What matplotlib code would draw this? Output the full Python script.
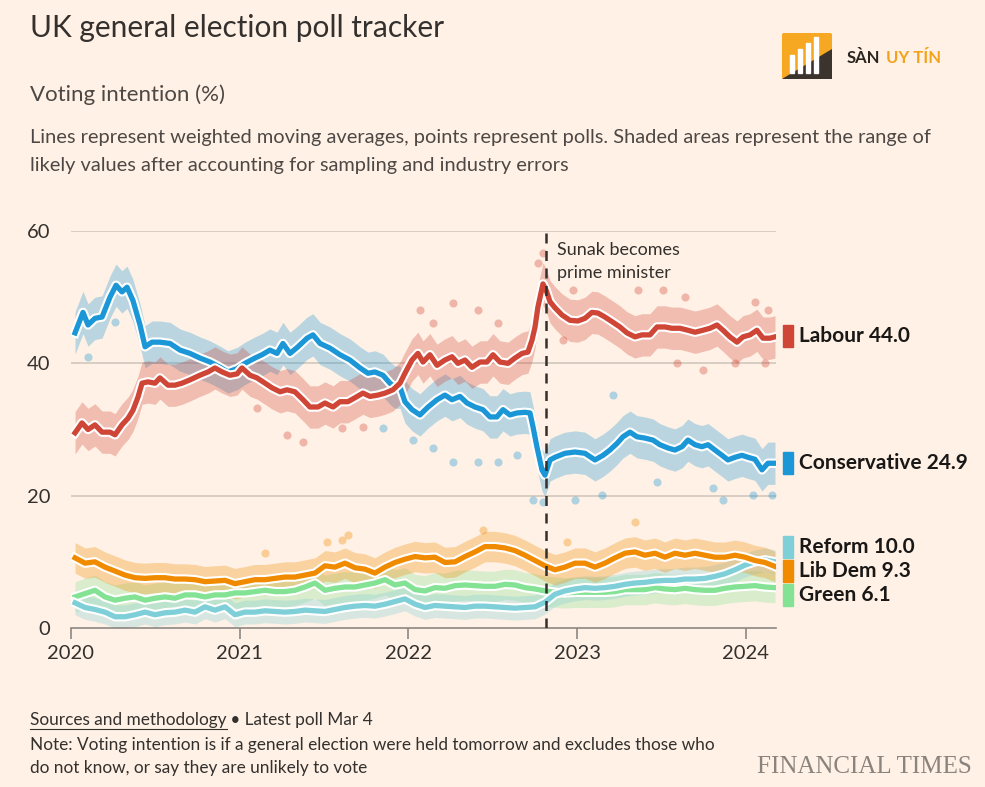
import matplotlib
matplotlib.use("Agg")
import matplotlib.pyplot as plt
import matplotlib.patheffects as pe
from matplotlib.patches import Rectangle, FancyBboxPatch, Polygon
import matplotlib.transforms as mtransforms
import numpy as np

# ---------------- data (decimal years, % voting intention) ----------------
lab_x = [2020.024, 2020.065, 2020.101, 2020.142, 2020.184, 2020.231, 2020.261, 2020.302, 2020.338, 2020.367,
         2020.397, 2020.421, 2020.456, 2020.498, 2020.527, 2020.575, 2020.616, 2020.658, 2020.705, 2020.764,
         2020.812, 2020.853, 2020.895, 2020.942, 2020.984, 2021.013, 2021.061, 2021.102, 2021.150, 2021.191,
         2021.239, 2021.280, 2021.327, 2021.375, 2021.416, 2021.464, 2021.505, 2021.553, 2021.594, 2021.641,
         2021.683, 2021.730, 2021.772, 2021.819, 2021.861, 2021.908, 2021.950, 2021.979, 2022.021, 2022.056,
         2022.086, 2022.127, 2022.169, 2022.216, 2022.258, 2022.293, 2022.335, 2022.376, 2022.424, 2022.465,
         2022.501, 2022.542, 2022.590, 2022.631, 2022.673, 2022.708, 2022.732, 2022.750, 2022.767, 2022.797,
         2022.815, 2022.839, 2022.868, 2022.910, 2022.957, 2023.004, 2023.046, 2023.087, 2023.123, 2023.164,
         2023.212, 2023.253, 2023.295, 2023.342, 2023.384, 2023.431, 2023.473, 2023.520, 2023.561, 2023.609,
         2023.656, 2023.698, 2023.745, 2023.787, 2023.828, 2023.864, 2023.905, 2023.947, 2023.982, 2024.024,
         2024.065, 2024.101, 2024.142, 2024.172]
lab_y = [29.5, 31.0, 30.0, 30.7, 29.6, 29.6, 29.2, 30.7, 31.7, 32.9,
         34.9, 37.0, 37.2, 37.0, 37.8, 36.7, 36.7, 37.0, 37.5, 38.2,
         38.7, 39.3, 38.7, 38.2, 38.4, 39.3, 38.2, 37.8, 37.0, 36.3,
         35.7, 36.0, 35.7, 34.5, 33.4, 33.4, 34.0, 33.4, 34.2, 34.2,
         34.8, 35.5, 35.0, 35.2, 35.5, 36.0, 37.0, 38.5, 40.5, 41.5,
         40.2, 41.3, 39.7, 40.5, 41.0, 40.0, 40.5, 39.4, 40.2, 40.2,
         41.3, 40.2, 40.0, 40.8, 41.5, 41.7, 43.5, 45.5, 48.5, 52.0,
         51.1, 49.3, 48.4, 47.3, 46.5, 46.4, 46.8, 47.7, 47.6, 47.0,
         46.2, 45.5, 44.6, 44.0, 44.3, 44.3, 45.5, 45.5, 45.3, 45.3,
         45.0, 44.7, 45.0, 45.3, 45.8, 45.0, 44.0, 43.2, 44.0, 44.3,
         45.0, 43.8, 43.8, 44.0]

con_x = [2020.024, 2020.071, 2020.101, 2020.142, 2020.184, 2020.231, 2020.267, 2020.302, 2020.332, 2020.367,
         2020.409, 2020.439, 2020.480, 2020.527, 2020.587, 2020.646, 2020.705, 2020.764, 2020.824, 2020.883,
         2020.930, 2020.984, 2021.031, 2021.090, 2021.132, 2021.179, 2021.221, 2021.256, 2021.298, 2021.345,
         2021.399, 2021.434, 2021.476, 2021.535, 2021.594, 2021.653, 2021.713, 2021.760, 2021.801, 2021.849,
         2021.890, 2021.920, 2021.950, 2021.979, 2022.021, 2022.068, 2022.116, 2022.169, 2022.216, 2022.258,
         2022.305, 2022.347, 2022.394, 2022.441, 2022.483, 2022.524, 2022.560, 2022.601, 2022.643, 2022.690,
         2022.720, 2022.738, 2022.761, 2022.791, 2022.809, 2022.839, 2022.868, 2022.927, 2022.987, 2023.046,
         2023.105, 2023.153, 2023.194, 2023.236, 2023.271, 2023.313, 2023.354, 2023.401, 2023.449, 2023.490,
         2023.538, 2023.579, 2023.621, 2023.656, 2023.698, 2023.739, 2023.775, 2023.816, 2023.858, 2023.893,
         2023.935, 2023.976, 2024.012, 2024.053, 2024.095, 2024.130, 2024.172]
con_y = [44.6, 47.7, 45.8, 46.8, 47.0, 50.0, 51.8, 50.8, 51.5, 49.5,
         45.8, 42.5, 43.2, 43.2, 43.0, 42.0, 41.5, 40.8, 40.2, 39.4,
         38.7, 39.2, 40.0, 40.8, 41.3, 42.0, 41.5, 43.0, 41.5, 42.5,
         43.8, 44.3, 43.0, 42.3, 41.3, 40.5, 39.3, 38.5, 38.7, 38.2,
         37.0, 36.4, 36.4, 34.2, 33.0, 32.2, 33.4, 34.5, 35.2, 34.5,
         35.0, 34.0, 33.4, 33.0, 31.9, 31.9, 33.0, 32.2, 32.5, 32.6,
         32.5, 30.4, 27.4, 23.9, 23.1, 25.4, 25.8, 26.4, 26.6, 26.4,
         25.4, 26.1, 26.9, 27.9, 28.9, 29.6, 28.9, 28.7, 28.4, 27.7,
         27.2, 26.9, 27.4, 28.4, 27.7, 27.4, 27.7, 26.9, 26.1, 25.4,
         25.8, 26.1, 25.8, 25.5, 23.9, 24.9, 24.9]

small_x = [2020.024, 2020.083, 2020.142, 2020.201, 2020.261, 2020.320, 2020.379, 2020.439, 2020.498, 2020.557,
           2020.616, 2020.676, 2020.735, 2020.794, 2020.853, 2020.913, 2020.972, 2021.031, 2021.090, 2021.150,
           2021.209, 2021.268, 2021.327, 2021.387, 2021.446, 2021.505, 2021.564, 2021.624, 2021.683, 2021.742,
           2021.801, 2021.861, 2021.920, 2021.979, 2022.039, 2022.098, 2022.157, 2022.216, 2022.276, 2022.335,
           2022.394, 2022.453, 2022.513, 2022.572, 2022.631, 2022.690, 2022.750, 2022.809, 2022.868, 2022.927,
           2022.987, 2023.046, 2023.105, 2023.164, 2023.224, 2023.283, 2023.342, 2023.401, 2023.461, 2023.520,
           2023.579, 2023.639, 2023.698, 2023.757, 2023.816, 2023.876, 2023.935, 2023.994, 2024.053, 2024.113,
           2024.172]
ld_y = [10.6, 9.8, 10.0, 9.2, 8.6, 8.0, 7.6, 7.5, 7.6, 7.6,
        7.4, 7.4, 7.3, 7.0, 7.1, 7.2, 6.7, 7.0, 7.3, 7.3,
        7.5, 7.7, 7.7, 8.0, 8.3, 9.4, 9.2, 9.8, 9.1, 8.9,
        8.3, 9.2, 9.9, 10.4, 10.8, 10.6, 10.7, 9.9, 10.0, 10.8,
        11.5, 12.3, 12.3, 12.1, 11.7, 11.0, 10.2, 9.4, 8.8, 9.2,
        9.8, 9.8, 9.2, 9.8, 10.6, 11.3, 11.5, 11.0, 11.3, 10.7,
        11.3, 11.0, 11.3, 11.0, 10.7, 10.7, 11.0, 10.7, 10.2, 9.9,
        9.3]
green_y = [4.7, 5.2, 5.7, 4.7, 4.2, 4.5, 4.7, 4.2, 4.5, 4.7,
           4.5, 5.0, 5.0, 4.7, 5.0, 5.0, 5.3, 5.3, 5.5, 5.7,
           5.5, 5.5, 5.7, 6.2, 6.8, 5.7, 6.0, 6.2, 6.2, 6.5,
           6.8, 7.3, 6.5, 6.8, 5.8, 5.6, 6.1, 6.0, 6.4, 6.5,
           6.4, 6.3, 6.3, 6.6, 6.5, 6.1, 5.9, 5.6, 5.4, 5.3,
           5.4, 5.4, 5.4, 5.4, 5.5, 5.8, 5.8, 5.8, 6.1, 5.9,
           5.8, 6.0, 5.8, 5.7, 5.7, 6.0, 6.2, 6.3, 6.4, 6.2,
           6.1]
reform_y = [3.8, 3.1, 2.8, 2.4, 1.7, 1.7, 2.0, 2.4, 2.0, 2.3,
            2.4, 2.7, 2.4, 3.2, 2.7, 3.2, 2.0, 2.4, 2.4, 2.6,
            2.5, 2.4, 2.5, 2.7, 2.6, 2.5, 2.8, 3.1, 3.3, 3.4,
            3.3, 3.6, 4.0, 4.4, 3.6, 3.1, 3.4, 3.3, 3.2, 3.1,
            3.3, 3.3, 3.2, 3.1, 3.0, 3.1, 3.2, 3.9, 5.1, 5.6,
            5.9, 6.1, 6.0, 6.1, 6.3, 6.6, 6.8, 6.9, 7.1, 7.2,
            7.2, 7.4, 7.4, 7.5, 7.8, 8.2, 8.8, 9.5, 10.0, 10.3,
            10.0]

# individual polls away from the averages
lab_poll_x = [2022.068, 2022.264, 2022.412, 2022.530, 2022.145, 2023.360, 2023.508, 2023.639, 2022.975,
              2024.053, 2024.130, 2023.745, 2023.591, 2022.916, 2023.935, 2024.113, 2022.797, 2022.767,
              2021.280, 2021.375, 2021.100, 2021.606, 2021.730]
lab_poll_y = [48.1, 49.1, 48.1, 46.1, 46.1, 51.1, 51.1, 50.0, 51.1,
              49.3, 48.1, 39.0, 40.0, 43.5, 40.0, 40.0, 56.7, 55.2,
              29.2, 28.1, 33.2, 30.2, 30.4]
con_poll_x = [2022.264, 2022.412, 2022.530, 2022.145, 2022.643, 2022.738, 2022.797, 2022.987, 2023.864,
              2024.154, 2024.041, 2023.804, 2023.473, 2023.147, 2023.212, 2020.261, 2020.101, 2021.849, 2022.027]
con_poll_y = [25.1, 25.1, 25.1, 27.2, 26.1, 19.3, 19.0, 19.3, 19.3,
              20.1, 20.1, 21.2, 22.0, 20.1, 35.2, 46.2, 41.0, 30.2, 28.4]
ld_poll_x = [2021.150, 2021.606, 2021.641, 2021.517, 2023.342, 2022.939, 2022.441]
ld_poll_y = [11.3, 13.3, 14.0, 13.0, 16.0, 13.0, 14.8]

sunak_date = 2022.814
years = [2020, 2021, 2022, 2023, 2024]
yticks = [0, 20, 40, 60]

parties = ["Labour", "Conservative", "Reform", "Lib Dem", "Green"]
latest = [44.0, 24.9, 10.0, 9.3, 6.1]

# ---------------- styles ----------------
BG = "#fff1e5"
TXT = "#33302e"
colors = {"Labour": "#cf4536", "Conservative": "#1b97d7", "Reform": "#7fcfd9",
          "Lib Dem": "#f08b00", "Green": "#83e294"}
band_hw = {"Labour": 3.2, "Conservative": 3.2, "Reform": 1.8, "Lib Dem": 2.3, "Green": 2.3}
label_y = {"Labour": 44.1, "Conservative": 24.9, "Reform": 12.2, "Lib Dem": 8.6, "Green": 5.0}

plt.rcParams["font.family"] = ["Lato", "DejaVu Sans"]

fig = plt.figure(figsize=(9.85, 7.87), dpi=100, facecolor=BG)
ax = fig.add_axes([71 / 985, 1 - 628 / 787, 705 / 985, 397 / 787])
ax.set_facecolor(BG)

series = [
    ("Green", small_x, green_y, [], []),
    ("Reform", small_x, reform_y, [], []),
    ("Lib Dem", small_x, ld_y, ld_poll_x, ld_poll_y),
    ("Conservative", con_x, con_y, con_poll_x, con_poll_y),
    ("Labour", lab_x, lab_y, lab_poll_x, lab_poll_y),
]

for i, (name, xs, ys, px, py) in enumerate(series):
    c = colors[name]
    xs = np.asarray(xs)
    ys = np.asarray(ys)
    hw = band_hw[name]
    ax.fill_between(xs, np.clip(ys - hw, 0, None), ys + hw, color=c, alpha=0.3,
                    linewidth=0, zorder=1 + i * 0.1)
    if len(px):
        ax.scatter(px, py, s=34, color=c, alpha=0.35, linewidths=0, zorder=1.5 + i * 0.1)
    ax.plot(xs, ys, color=c, lw=3.8, solid_joinstyle="round", zorder=3 + i * 0.1,
            path_effects=[pe.Stroke(linewidth=6.8, foreground="white"), pe.Normal()])

# Sunak line
ax.plot([sunak_date, sunak_date], [0, 60], color=TXT, lw=1.8, ls=(0, (4, 3)), zorder=6)
ax.text(sunak_date + 0.065, 58.3, "Sunak becomes\nprime minister", fontsize=13, color=TXT,
        va="top", ha="left", linespacing=1.5, zorder=7)

ax.set_xlim(2020, 2024.178)
ax.set_ylim(0, 60)
for s in ["top", "right", "left"]:
    ax.spines[s].set_visible(False)
ax.spines["bottom"].set_color("#8d8782")
ax.spines["bottom"].set_linewidth(1.2)
ax.set_yticks(yticks)
ax.set_yticklabels([str(v) for v in yticks], fontsize=14.5, color=TXT)
ax.tick_params(axis="y", length=0, pad=15)
ax.set_xticks(years)
ax.set_xticklabels([str(y) for y in years], fontsize=14.5, color=TXT)
ax.tick_params(axis="x", length=8, width=1.2, color="#8d8782", pad=4)
for v in yticks[1:]:
    ax.axhline(v, color="#d1c7bd", lw=1.2, zorder=0.5)

# right-hand labels
trans = mtransforms.blended_transform_factory(ax.transAxes, ax.transData)
for name, val in zip(parties, latest):
    yl = label_y[name]
    ax.add_patch(Rectangle((1.010, yl - 1.65), 0.0145, 3.3, transform=trans,
                           color=colors[name], clip_on=False, zorder=8))
    ax.text(1.033, yl, f"{name} {val:.1f}", transform=trans, fontsize=15,
            fontweight="bold", color="#1a1817", va="center", ha="left")

# titles
fig.text(30 / 985, 1 - 28 / 787, "UK general election poll tracker", fontsize=21.5,
         color=TXT, va="center", ha="left")
fig.text(30 / 985, 1 - 95 / 787, "Voting intention (%)", fontsize=16,
         color="#4d4845", va="center", ha="left")
fig.text(30 / 985, 1 - 137 / 787,
         "Lines represent weighted moving averages, points represent polls. Shaded areas represent the range of",
         fontsize=14.4, color="#4d4845", va="center", ha="left")
fig.text(30 / 985, 1 - 165 / 787, "likely values after accounting for sampling and industry errors",
         fontsize=14.4, color="#4d4845", va="center", ha="left")

# footer
t = fig.text(30 / 985, 1 - 720 / 787, "Sources and methodology", fontsize=12.4, color=TXT,
             va="center", ha="left")
fig.canvas.draw()
bb = t.get_window_extent()
fig.add_artist(plt.Line2D([bb.x0 / fig.bbox.width, bb.x1 / fig.bbox.width],
                          [(bb.y0 - 1) / fig.bbox.height] * 2, color=TXT, lw=0.8))
fig.text(bb.x1 / fig.bbox.width, 1 - 720 / 787, " \u2022 Latest poll Mar 4", fontsize=12.4,
         color=TXT, va="center", ha="left")
fig.text(30 / 985, 1 - 745 / 787,
         "Note: Voting intention is if a general election were held tomorrow and excludes those who",
         fontsize=12.4, color=TXT, va="center", ha="left")
fig.text(30 / 985, 1 - 768 / 787, "do not know, or say they are unlikely to vote",
         fontsize=12.4, color=TXT, va="center", ha="left")
fig.text(972 / 985, 1 - 767 / 787, "FINANCIAL TIMES", fontsize=18, family="Liberation Serif",
         color="#8a837e", va="center", ha="right")

# watermark logo
lax = fig.add_axes([782 / 985, 1 - 79 / 787, 50 / 985, 46 / 787])
lax.set_xlim(0, 50)
lax.set_ylim(0, 46)
lax.axis("off")
lax.add_patch(FancyBboxPatch((0, 0), 50, 46, boxstyle="round,pad=0,rounding_size=4",
                             color="#f7a823", zorder=1))
lax.add_patch(Polygon([(0, 0), (50, 0), (50, 30)], closed=True, color="#3a332e", zorder=2))
for bx, bh in zip([8, 16, 24, 32], [18, 24, 30, 36]):
    lax.add_patch(Rectangle((bx, 6), 4, bh, color="white", zorder=3))
t1 = fig.text(847 / 985, 1 - 58 / 787, "S\u00c0N", fontsize=12, fontweight="bold", color="#2b2521",
              va="center", ha="left")
fig.canvas.draw()
b1 = t1.get_window_extent()
fig.text((b1.x1 + 5) / fig.bbox.width, 1 - 58 / 787, "UY T\u00cdN", fontsize=12, fontweight="bold",
         color="#f2a31b", va="center", ha="left")

fig.savefig("out.png", dpi=100, facecolor=BG)
